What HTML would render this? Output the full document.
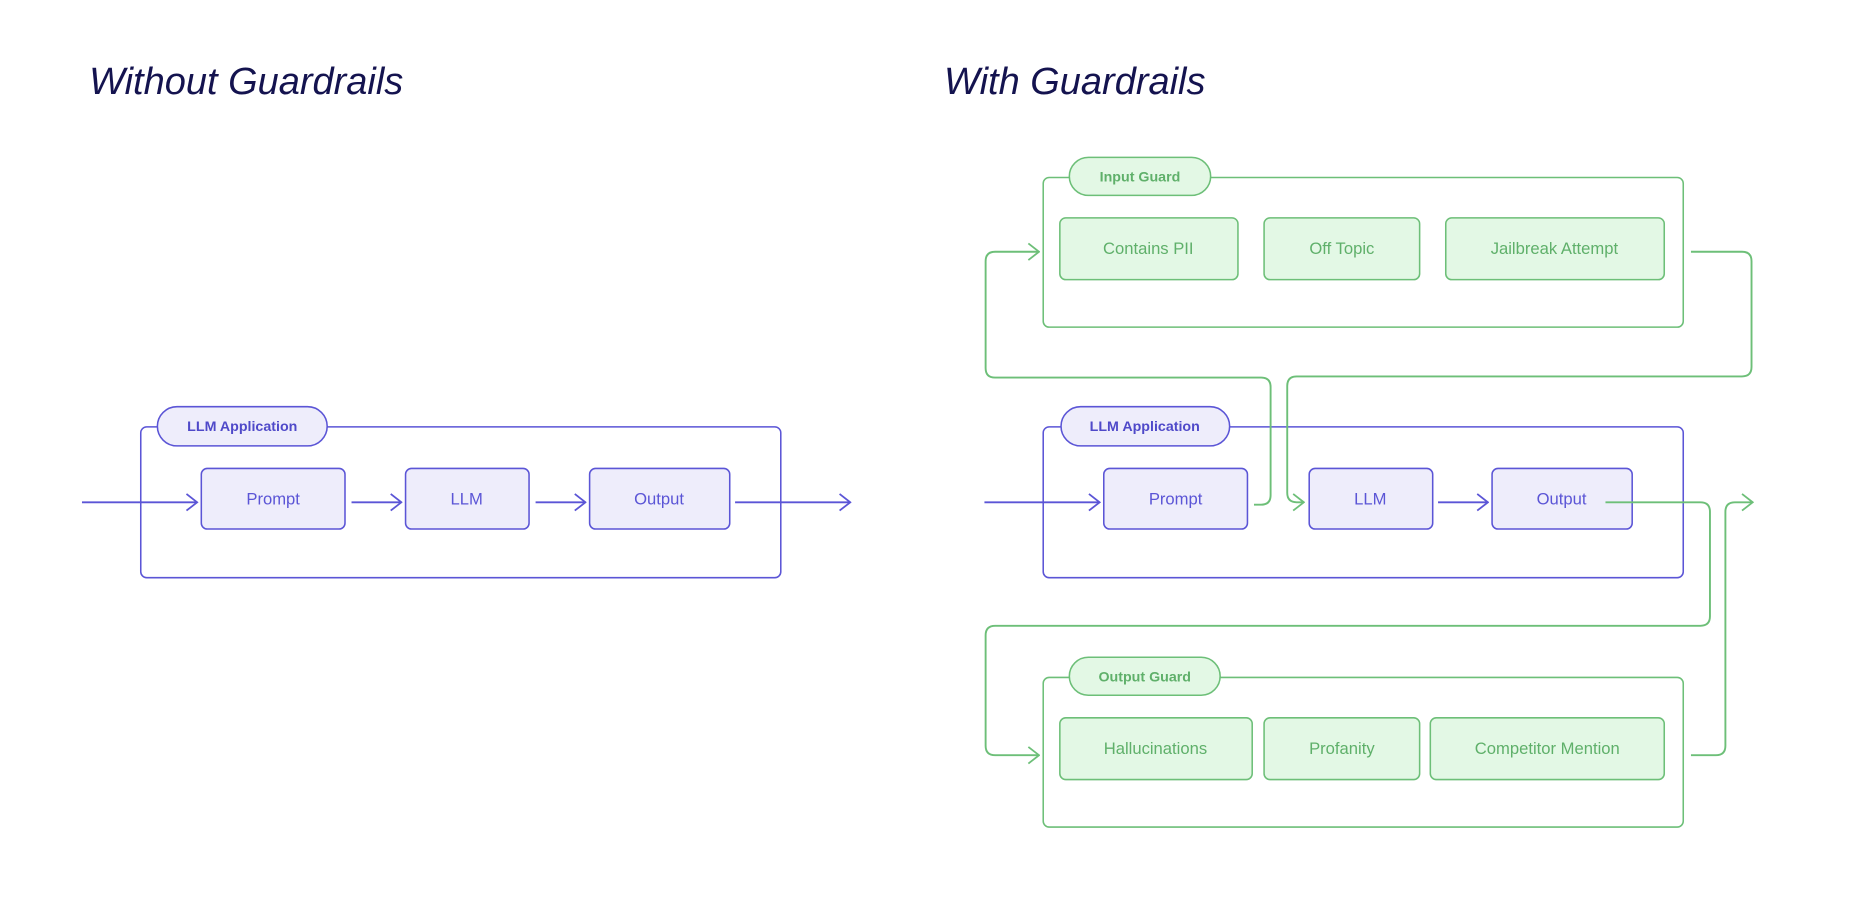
<!DOCTYPE html>
<html><head><meta charset="utf-8"><style>
html,body{margin:0;padding:0;background:#fff;}
svg{display:block;}
text{font-family:"Liberation Sans",sans-serif;}
</style></head><body>
<svg width="1862" height="923" viewBox="0 0 1568 777.3" xmlns="http://www.w3.org/2000/svg">
<defs>
<marker id="ab" viewBox="0 0 12 16" refX="11" refY="8" markerWidth="12" markerHeight="16" markerUnits="userSpaceOnUse" orient="auto"><path d="M2 1 L11 8 L2 15" fill="none" stroke="#5B55D6" stroke-width="1.5"/></marker>
<marker id="ag" viewBox="0 0 12 16" refX="11" refY="8" markerWidth="12" markerHeight="16" markerUnits="userSpaceOnUse" orient="auto"><path d="M2 1 L11 8 L2 15" fill="none" stroke="#6DBF78" stroke-width="1.5"/></marker>
</defs>
<text x="75" y="79" font-size="32" font-style="italic" fill="#14134F">Without Guardrails</text>
<text x="795" y="79" font-size="32" font-style="italic" fill="#14134F">With Guardrails</text>

<g fill="none" stroke-width="1.3">
<rect x="118.5" y="359.5" width="539" height="127" rx="5" stroke="#5B55D6"/>
<rect x="878.5" y="149.5" width="539" height="126" rx="5" stroke="#6DBF78"/>
<rect x="878.5" y="359.5" width="539" height="127" rx="5" stroke="#5B55D6"/>
<rect x="878.5" y="570.5" width="539" height="126" rx="5" stroke="#6DBF78"/>
</g>

<g stroke-width="1.3">
<rect x="132.5" y="342.5" width="143" height="33" rx="16.5" fill="#EEEDFB" stroke="#5B55D6"/>
<rect x="893.5" y="342.5" width="142" height="33" rx="16.5" fill="#EEEDFB" stroke="#5B55D6"/>
<rect x="900.5" y="132.5" width="119" height="32" rx="16" fill="#E3F8E5" stroke="#6DBF78"/>
<rect x="900.5" y="553.5" width="127" height="32" rx="16" fill="#E3F8E5" stroke="#6DBF78"/>
<g fill="#EEEDFB" stroke="#5B55D6">
<rect x="169.5" y="394.5" width="121" height="51" rx="5"/>
<rect x="341.5" y="394.5" width="104" height="51" rx="5"/>
<rect x="496.5" y="394.5" width="118" height="51" rx="5"/>
<rect x="929.5" y="394.5" width="121" height="51" rx="5"/>
<rect x="1102.5" y="394.5" width="104" height="51" rx="5"/>
<rect x="1256.5" y="394.5" width="118" height="51" rx="5"/>
</g>
<g fill="#E3F8E5" stroke="#6DBF78">
<rect x="892.5" y="183.5" width="150" height="52" rx="5"/>
<rect x="1064.5" y="183.5" width="131" height="52" rx="5"/>
<rect x="1217.5" y="183.5" width="184" height="52" rx="5"/>
<rect x="892.5" y="604.5" width="162" height="52" rx="5"/>
<rect x="1064.5" y="604.5" width="131" height="52" rx="5"/>
<rect x="1204.5" y="604.5" width="197" height="52" rx="5"/>
</g>
</g>

<g fill="none" stroke-width="1.6" stroke="#5B55D6">
<path d="M69 423 H166" marker-end="url(#ab)"/>
<path d="M296 423 H338" marker-end="url(#ab)"/>
<path d="M451 423 H493" marker-end="url(#ab)"/>
<path d="M619 423 H716" marker-end="url(#ab)"/>
<path d="M829 423 H926" marker-end="url(#ab)"/>
<path d="M1211 423 H1253" marker-end="url(#ab)"/>
</g>
<g fill="none" stroke-width="1.6" stroke="#6DBF78">
<path d="M1056 425 H1062 q8 0 8 -8 V326 q0 -8 -8 -8 H838 q-8 0 -8 -8 V220 q0 -8 8 -8 H875" marker-end="url(#ag)"/>
<path d="M1424 212 H1467 q8 0 8 8 V309 q0 8 -8 8 H1092 q-8 0 -8 8 V415 q0 8 8 8 H1098" marker-end="url(#ag)"/>
<path d="M1352 423 H1432 q8 0 8 8 V519 q0 8 -8 8 H838 q-8 0 -8 8 V628 q0 8 8 8 H875" marker-end="url(#ag)"/>
<path d="M1424 636 H1445 q8 0 8 -8 V431 q0 -8 8 -8 H1476" marker-end="url(#ag)"/>
</g>

<g font-size="12" font-weight="bold" text-anchor="middle">
<text x="204" y="363" fill="#4F49C9">LLM Application</text>
<text x="964" y="363" fill="#4F49C9">LLM Application</text>
<text x="960" y="153" fill="#5FB06A">Input Guard</text>
<text x="964" y="574" fill="#5FB06A">Output Guard</text>
</g>
<g font-size="14" text-anchor="middle" fill="#5B55D6">
<text x="230" y="425">Prompt</text>
<text x="393" y="425">LLM</text>
<text x="555" y="425">Output</text>
<text x="990" y="425">Prompt</text>
<text x="1154" y="425">LLM</text>
<text x="1315" y="425">Output</text>
</g>
<g font-size="14" text-anchor="middle" fill="#5FB06A">
<text x="967" y="214">Contains PII</text>
<text x="1130" y="214">Off Topic</text>
<text x="1309" y="214">Jailbreak Attempt</text>
<text x="973" y="635">Hallucinations</text>
<text x="1130" y="635">Profanity</text>
<text x="1303" y="635">Competitor Mention</text>
</g>
</svg>
</body></html>
